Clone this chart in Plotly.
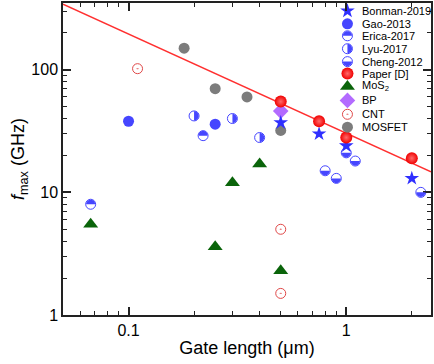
import numpy as np
import plotly.graph_objects as go

# ---------------- data ----------------
bonman_x = [0.5, 0.75, 1.0, 2.0]
bonman_y = [37, 30, 24, 13]
gao_x = [0.1, 0.25]
gao_y = [38, 36]
erica_x = [0.067, 0.22]
erica_y = [8, 29]
lyu_x = [0.2, 0.3, 0.4]
lyu_y = [42, 40, 28]
cheng_x = [0.8, 0.9, 1.0, 1.1, 2.2]
cheng_y = [15, 13, 21, 18, 10]
paper_x = [0.5, 0.75, 1.0, 2.0]
paper_y = [55, 38, 28, 19]
mos2_x = [0.067, 0.25, 0.3, 0.4, 0.5]
mos2_y = [5.5, 3.6, 12, 17, 2.3]
bp_x = [0.5]
bp_y = [46]
cnt_x = [0.11, 0.5, 0.5]
cnt_y = [102, 5, 1.5]
mosfet_x = [0.18, 0.25, 0.35, 0.5]
mosfet_y = [150, 70, 60, 32]
fit_x = [0.05, 2.45]
fit_y = [342, 14.7]

legend_labels = ["Bonman-2019", "Gao-2013", "Erica-2017", "Lyu-2017", "Cheng-2012",
                 "Paper [D]", "MoS<sub>2</sub>", "BP", "CNT", "MOSFET"]
x_tickvals = [0.1, 1]
x_ticktext = ["0.1", "1"]
y_tickvals = [1, 10, 100]
y_ticktext = ["1", "10", "100"]

# ---------------- styles ----------------
BLUE = "#4646ff"
STAR = "#2f2fff"
RED = "#f00000"
GREEN = "#0a640a"
GRAY = "#7c7c7c"
PURPLE = "#b36bff"
CNTC = "#e04848"
FONT = "Liberation Sans, Arial, sans-serif"

fig = go.Figure()

fig.add_trace(go.Scatter(x=fit_x, y=fit_y, mode="lines",
                         line=dict(color="#ff3030", width=1.5), showlegend=False))

def pts(x, y, **marker):
    fig.add_trace(go.Scatter(x=x, y=y, mode="markers", marker=marker, showlegend=False))

STAR_M = dict(symbol="star", size=11, color=STAR, line=dict(width=0))
GAO_M = dict(symbol="circle", size=11, color=BLUE, line=dict(width=0))
HALF_M = dict(symbol="circle", size=10, color="white", line=dict(color=BLUE, width=1))
RED_M = dict(symbol="circle", size=12, color=RED, gradient=dict(type="radial", color="#ff6a6a"),
             line=dict(width=0))
MOS_M = dict(symbol="triangle-up", size=13, color=GREEN, line=dict(width=0))
BP_M = dict(symbol="diamond", size=12, color=PURPLE, line=dict(width=0))
CNT_M = dict(symbol="circle-open-dot", size=10, color=CNTC, line=dict(color=CNTC, width=1))
GRAY_M = dict(symbol="circle", size=11, color=GRAY, line=dict(width=0))

pts(mosfet_x, mosfet_y, **GRAY_M)
pts(gao_x, gao_y, **GAO_M)
for hx, hy in [(erica_x, erica_y), (lyu_x, lyu_y), (cheng_x, cheng_y)]:
    pts(hx, hy, **HALF_M)
pts(cnt_x, cnt_y, **CNT_M)
pts(mos2_x, mos2_y, **MOS_M)
pts(bp_x, bp_y, **BP_M)
pts(bonman_x, bonman_y, **STAR_M)
pts(paper_x, paper_y, **RED_M)

R = 4.6
K = 0.5523 * R
def half_path(kind):
    if kind == "top":
        return (f"M {-R},0 C {-R},{K} {-K},{R} 0,{R} C {K},{R} {R},{K} {R},0 Z")
    if kind == "bottom":
        return (f"M {-R},0 C {-R},{-K} {-K},{-R} 0,{-R} C {K},{-R} {R},{-K} {R},0 Z")
    return (f"M 0,{R} C {K},{R} {R},{K} {R},0 C {R},{-K} {K},{-R} 0,{-R} Z")

shapes = []
def add_halves(xs, ys, kind, xref="x", yref="y"):
    for xv, yv in zip(xs, ys):
        shapes.append(dict(type="path", xref=xref, yref=yref,
                           xsizemode="pixel", ysizemode="pixel",
                           xanchor=xv, yanchor=yv,
                           path=half_path(kind), fillcolor=BLUE,
                           line=dict(width=0), layer="above"))

add_halves(erica_x, erica_y, "top")
add_halves(lyu_x, lyu_y, "right")
add_halves(cheng_x, cheng_y, "bottom")

# ---------------- manual legend on hidden overlay axes ----------------
L, T, W, H = 63, 1, 370, 314
def px2x(p): return (p - L) / W
def py2y(p): return (T + H - p) / H
rows_py = [9, 22, 34, 47, 60, 72, 85, 99, 113, 126]
mx = px2x(349)
ly = [py2y(p) for p in rows_py]
specs = [STAR_M, GAO_M, HALF_M, HALF_M, HALF_M, RED_M, MOS_M, BP_M, CNT_M, GRAY_M]
for i, sp in enumerate(specs):
    fig.add_trace(go.Scatter(x=[mx], y=[ly[i]], xaxis="x2", yaxis="y2", mode="markers",
                             marker=sp, showlegend=False, cliponaxis=False))
add_halves([mx], [ly[2]], "top", "x2", "y2")
add_halves([mx], [ly[3]], "right", "x2", "y2")
add_halves([mx], [ly[4]], "bottom", "x2", "y2")

annotations = []
for i, lab in enumerate(legend_labels):
    annotations.append(dict(x=px2x(363), y=ly[i], xref="paper", yref="paper", text=lab,
                            showarrow=False, xanchor="left", yanchor="middle",
                            xshift=-1,
                            font=dict(family=FONT, size=11, color="black")))

axis_common = dict(type="log", showline=True, linecolor="#222", linewidth=1.5, mirror="allticks",
                   ticks="inside", ticklen=8, tickwidth=1.5, tickcolor="#222", showgrid=False,
                   zeroline=False, tickfont=dict(family=FONT, size=16, color="black"))

fig.update_layout(
    width=434, height=364,
    margin=dict(l=L, r=434 - L - W, t=T, b=364 - T - H),
    paper_bgcolor="white", plot_bgcolor="white",
    showlegend=False,
    xaxis=dict(axis_common, range=[np.log10(0.05), np.log10(2.45)],
               tickvals=x_tickvals, ticktext=x_ticktext,
               minor=dict(ticks="inside", ticklen=4, tickwidth=1.2, tickcolor="#222",
                          tickvals=[0.06, 0.07, 0.08, 0.09, 0.2, 0.3, 0.4, 0.5, 0.6, 0.7, 0.8, 0.9, 2]),
               title=dict(text="Gate length (\u03bcm)", font=dict(family=FONT, size=18, color="black"),
                          standoff=3)),
    yaxis=dict(axis_common, range=[0, np.log10(350)],
               tickvals=y_tickvals, ticktext=y_ticktext,
               minor=dict(ticks="inside", ticklen=4, tickwidth=1.2, tickcolor="#222",
                          tickvals=[2, 3, 4, 5, 6, 7, 8, 9, 20, 30, 40, 50, 60, 70, 80, 90, 200, 300]),
               title=dict(text="<i>f</i><sub>max</sub> (GHz)", font=dict(family=FONT, size=18, color="black"),
                          standoff=2)),
    xaxis2=dict(overlaying="x", range=[0, 1], visible=False),
    yaxis2=dict(overlaying="y", range=[0, 1], visible=False),
    shapes=shapes,
    annotations=annotations,
)

fig.write_html("out.html")
